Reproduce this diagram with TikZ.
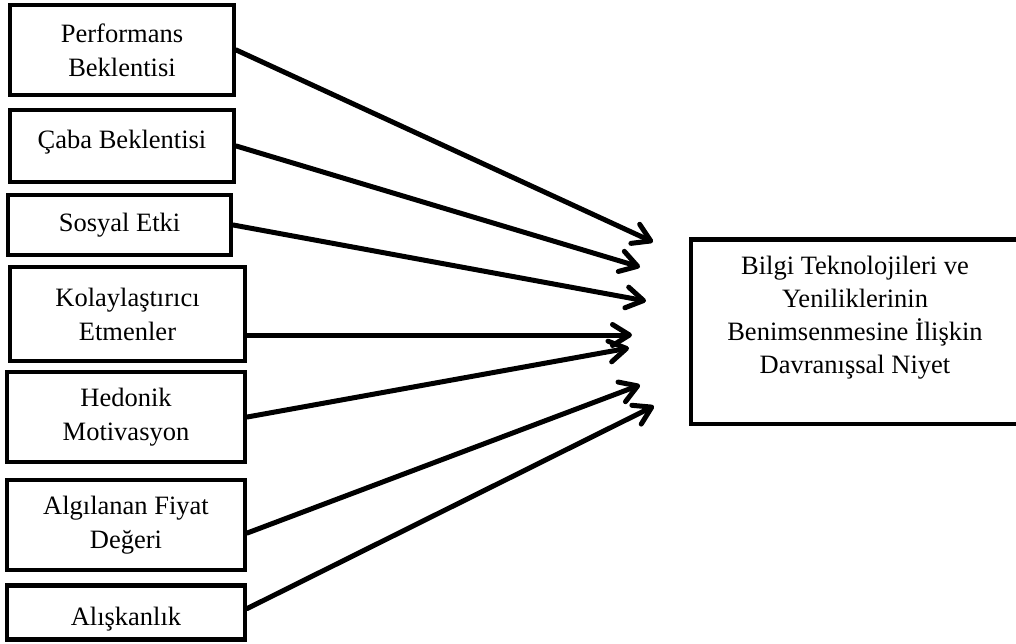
\documentclass[tikz,border=0pt]{standalone}
\usepackage{fontspec}
\setmainfont{Liberation Serif}
\usetikzlibrary{arrows.meta}
\begin{document}
\begin{tikzpicture}[x=1pt,y=-1pt,
  factor/.style={draw, line width=4.5pt, inner sep=0pt, align=center,
    font=\fontsize{26.5}{34}\selectfont},
  caption/.style={inner sep=0pt, align=center,
    font=\fontsize{26.5}{33}\selectfont},
  link/.style={line width=5pt, line cap=round, line join=round,
    -{Straight Barb[length=17pt,width=21pt,line cap=round,line join=round]}}]
\useasboundingbox (0,0) rectangle (1016,643);

% predictor boxes
\node[factor, minimum width=224pt, minimum height=90pt] (pb) at (122,50) {Performans\\Beklentisi};
\node[factor, minimum width=224pt, minimum height=72pt, text height=18pt, text depth=14pt] (cb) at (122,146) {Çaba Beklentisi};
\node[factor, minimum width=223pt, minimum height=60pt] (se) at (119.5,225) {Sosyal Etki};
\node[factor, minimum width=235pt, minimum height=94pt] (ke) at (127.5,314) {Kolaylaştırıcı\\Etmenler};
\node[factor, minimum width=238pt, minimum height=90pt] (hm) at (126,417) {Hedonik\\Motivasyon};
\node[factor, minimum width=238pt, minimum height=90pt] (af) at (126,525) {Algılanan Fiyat\\Değeri};
\node[factor, minimum width=238pt, minimum height=54pt, text height=31pt, text depth=6pt] (al) at (126,612.5) {Alışkanlık};

% outcome box
\node[factor, minimum width=330pt, minimum height=184.5pt] (bn) at (856,331.5) {};
\node[caption] (bntext) at (855,318) {Bilgi Teknolojileri ve\\Yeniliklerinin\\Benimsenmesine İlişkin\\Davranışsal Niyet};

% arrow ends in front of the outcome box
\coordinate (t1) at (653,242);
\coordinate (t2) at (640,267);
\coordinate (t3) at (646,301);
\coordinate (t4) at (632,335);
\coordinate (t5) at (629,348);
\coordinate (t6) at (640,385);
\coordinate (t7) at (654,406);

\draw[link] (pb.east) -- (t1);
\draw[link] (cb.east) -- (t2);
\draw[link] (se.east) -- (t3);
\draw[link] ([yshift=-21pt]ke.east) -- (t4);
\draw[link] (hm.east) -- (t5);
\draw[link] ([yshift=-8pt]af.east) -- (t6);
\draw[link] ([yshift=4pt]al.east) -- (t7);
\end{tikzpicture}
\end{document}
